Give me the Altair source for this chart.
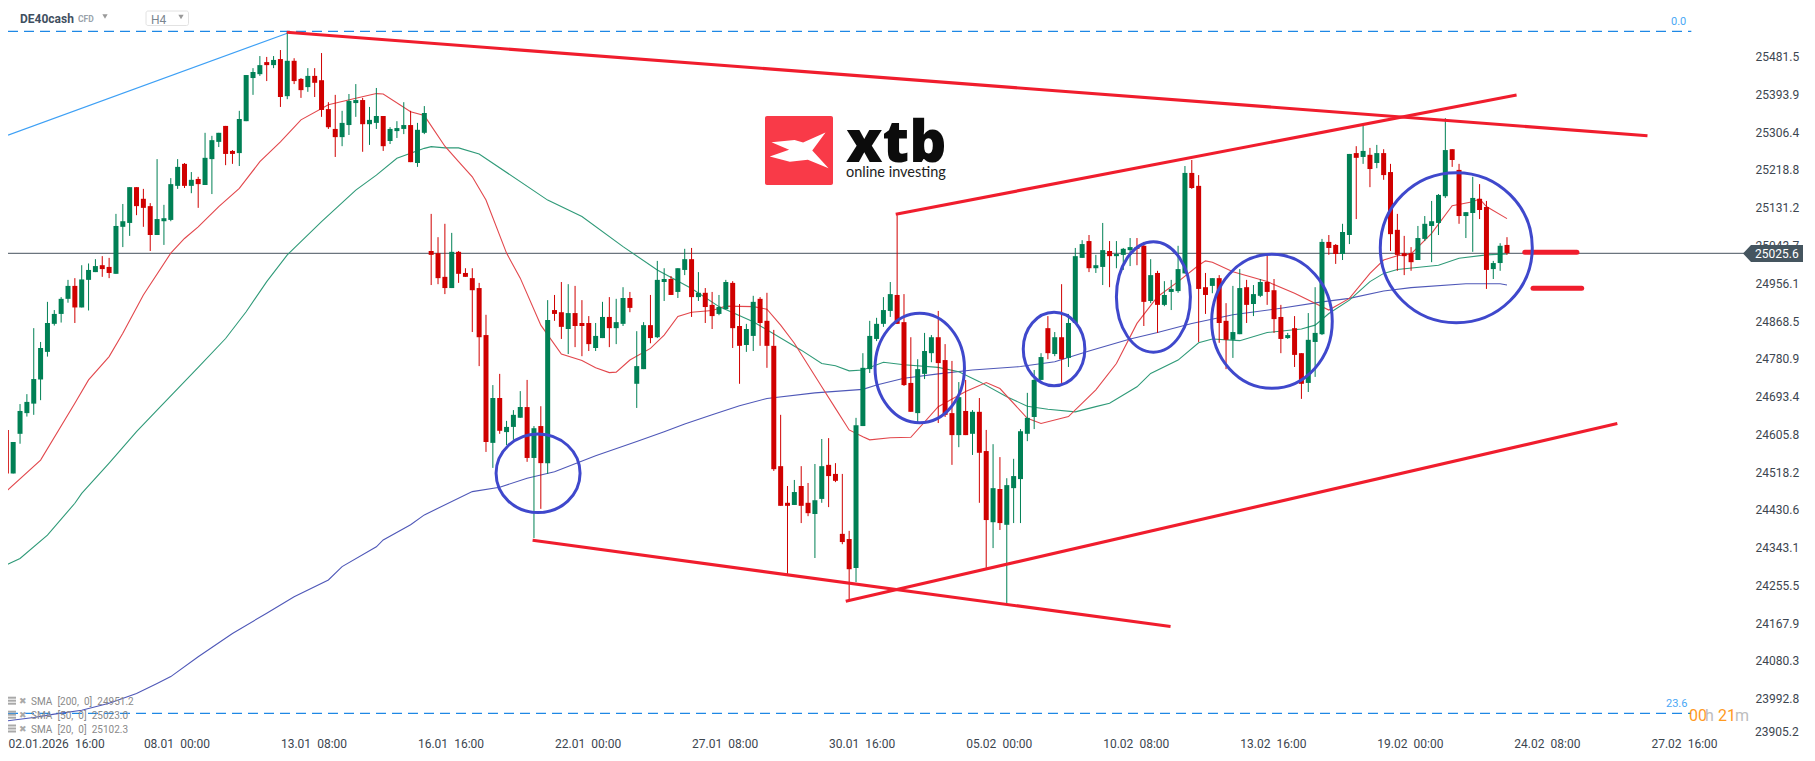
import altair as alt
import pandas as pd

high = [24618,24588,24676,24699,24852,24820,24913,24894,24924,24964,
24968,24998,25002,25012,25019,25015,25117,25140,25179,25179,
25175,25142,25244,25138,25200,25244,25235,25214,25203,25305,
25298,25305,25321,25265,25356,25439,25455,25483,25481,25483,
25497,25539,25478,25432,25455,25455,25490,25376,25393,25356,
25395,25418,25386,25365,25409,25344,25318,25332,25376,25356,
25328,25367,25117,25063,25094,25073,25031,24991,24991,24957,
24883,24720,24746,24637,24662,24706,24732,24625,24671,24917,
24929,24959,24954,24950,24917,24880,24864,24913,24924,24920,
24947,24936,24845,24866,24929,25008,24991,24973,24991,25036,
25038,24982,24945,24936,24929,24964,24961,24908,24862,24927,
24924,24934,24848,24651,24486,24500,24532,24493,24537,24595,
24597,24539,24514,24382,24644,24794,24869,24876,24924,24959,
25114,24931,24831,24780,24841,24836,24892,24815,24776,24727,
24732,24662,24690,24616,24583,24553,24504,24549,24618,24702,
24755,24794,24880,24843,24954,24885,25038,25056,25068,25022,
25096,25054,25054,25038,25061,25061,25052,25012,24985,24961,
24964,25043,25228,25242,25207,24980,24968,24975,24910,24950,
24989,24964,24952,24966,25022,24966,24906,24841,24880,24794,
24887,24947,25059,25068,25047,25094,25256,25274,25321,25270,
25277,25267,25233,25117,25066,25040,25089,25112,25147,25163,
25339,25267,25233,25121,25203,25186,25147,25008,25049,25063]

body_top = [24616,24588,24660,24681,24734,24806,24864,24885,24920,24950,
24950,24965,24987,24996,24998,24994,25089,25100,25179,25179,
25152,25135,25105,25107,25186,25226,25233,25196,25198,25247,
25288,25305,25321,25263,25337,25439,25446,25462,25469,25474,
25476,25472,25472,25430,25437,25437,25427,25360,25314,25328,
25379,25381,25381,25335,25344,25344,25314,25316,25323,25323,
25312,25351,25031,25026,24971,25029,25029,24980,24968,24945,
24836,24690,24690,24623,24651,24669,24669,24620,24625,24871,
24894,24889,24887,24887,24864,24864,24834,24878,24878,24866,
24922,24922,24764,24859,24859,24964,24966,24966,24991,25012,
25012,24934,24934,24906,24901,24959,24957,24857,24850,24913,
24920,24869,24811,24532,24447,24472,24486,24447,24453,24532,
24535,24514,24375,24363,24627,24760,24834,24862,24894,24931,
24929,24866,24725,24757,24799,24831,24831,24778,24655,24692,
24660,24658,24658,24567,24481,24479,24488,24509,24613,24644,
24732,24785,24852,24831,24831,24864,25019,25047,25054,24998,
25033,25031,25024,25036,25040,25040,25043,24975,24980,24929,
24943,24989,25212,25212,25182,24947,24968,24968,24869,24843,
24945,24947,24931,24959,24959,24940,24878,24836,24852,24794,
24825,24841,25052,25052,25045,25075,25256,25258,25263,25254,
25258,25258,25214,25080,25026,25026,25061,25094,25100,25161,
25265,25267,25219,25121,25154,25152,25133,25003,25043,25045]

body_bottom = [24515,24515,24607,24655,24677,24733,24797,24862,24885,24920,
24900,24900,24964,24982,24989,24980,24978,25087,25096,25135,
25131,25068,25068,25100,25103,25182,25182,25182,25186,25184,
25244,25284,25256,25256,25258,25332,25432,25441,25462,25462,
25388,25390,25425,25404,25411,25421,25358,25318,25295,25295,
25323,25374,25325,25325,25328,25274,25286,25309,25314,25237,
25235,25305,25022,24968,24945,24945,24978,24971,24940,24831,
24588,24586,24614,24611,24623,24644,24551,24551,24539,24539,
24885,24855,24850,24857,24857,24815,24806,24829,24852,24852,
24862,24899,24723,24757,24829,24831,24959,24929,24936,24987,
24924,24924,24901,24880,24885,24896,24852,24811,24813,24834,
24864,24811,24525,24440,24440,24442,24440,24423,24421,24456,
24509,24498,24356,24293,24296,24625,24757,24827,24862,24892,
24862,24720,24658,24655,24746,24794,24771,24651,24604,24604,
24604,24607,24563,24407,24402,24400,24396,24481,24502,24607,
24646,24732,24794,24792,24780,24783,24864,25015,24991,24991,
24994,25019,25019,25022,25033,25036,24913,24915,24906,24906,
24936,24938,24979,25177,24943,24929,24950,24864,24825,24825,
24838,24906,24908,24927,24936,24873,24827,24829,24790,24723,
24725,24820,24838,25038,25024,25024,25068,25247,25249,25221,
25235,25207,25070,25022,25019,25005,25010,25059,25089,25096,
25158,25242,25112,25112,25119,25126,24987,24989,25003,25026]

low = [24473,24515,24584,24647,24651,24685,24786,24858,24865,24911,
24864,24900,24893,24982,24971,24968,24978,25040,25066,25114,
25087,25031,25068,25045,25100,25175,25177,25165,25131,25184,
25163,25272,25230,25233,25228,25332,25393,25437,25425,25455,
25365,25383,25418,25386,25400,25388,25342,25314,25249,25274,
25300,25342,25261,25277,25314,25263,25279,25293,25302,25237,
25226,25302,24952,24954,24931,24945,24957,24971,24843,24764,
24565,24528,24607,24581,24593,24644,24542,24365,24433,24514,
24869,24827,24792,24808,24787,24799,24799,24829,24808,24815,
24857,24889,24667,24757,24817,24829,24915,24929,24922,24975,
24878,24915,24864,24850,24882,24896,24806,24723,24797,24799,
24811,24760,24521,24440,24282,24442,24400,24416,24319,24447,
24437,24495,24351,24222,24263,24625,24748,24822,24855,24878,
24862,24718,24658,24634,24734,24773,24632,24646,24535,24576,
24604,24558,24447,24296,24342,24384,24212,24400,24400,24590,
24618,24732,24780,24787,24725,24762,24864,25015,24982,24980,
24952,24947,24991,24987,24996,24998,24857,24910,24841,24903,
24894,24934,24979,25175,24820,24885,24933,24818,24757,24783,
24838,24864,24880,24924,24906,24841,24794,24827,24762,24688,
24704,24739,24836,25022,25001,25010,25047,25105,25233,25179,
25223,25196,25031,24985,24975,24985,25010,25054,25005,25068,
25154,25226,25094,25061,25029,25105,24943,24966,24985,25022]

direction = ("RGGGGGGGGG" "RGGGRRGGGR" "RRGGGGRGRG" "GGRRGGGGRG" "RGRRGRRRRG"
             "GGRGGRGGGR" "GGRRRGRRRR" "RGRGGGRGRG" "RRGRRRGGRG" "GRGGRGGRGG"
             "RGRRGGRRGG" "RRRRRGRRGG" "RRRRGGGGGG" "RRRGGGRRRG" "RGRRGRGGGG"
             "GGRGRGGGRG" "GRGGGRRGRG" "GGGRRRGRRG" "GRGGRRRGRR" "GGGRRGGRGR"
             "GRRRRRGGGG" "GRRGGRRGGR")

sma20_i = [0,5,10,12,15,17,20,24,26,28,31,34,37,40,43,47,51,54,55,59,61,64,66,68,70,73,75,78,81,84,86,88,89,91,94,96,98,100,103,105,109,111,113,115,119,121,123,125,126,129,132,136,140,143,145,149,151,155,159,162,165,168,171,174,175,176,179,184,188,193,196,199,201,203,205,208,211,214,215,216,219]
sma20_v = [24474,24546,24678,24732,24786,24840,24929,25026,25060,25087,25134,25176,25238,25284,25335,25370,25385,25396,25395,25354,25345,25274,25238,25203,25149,25026,24968,24859,24792,24777,24760,24749,24750,24778,24805,24836,24879,24889,24893,24903,24902,24896,24859,24817,24716,24666,24616,24600,24593,24598,24599,24670,24705,24726,24712,24643,24631,24647,24709,24770,24863,24925,24960,24998,25008,25005,24983,24960,24933,24894,24921,24979,25010,25020,25024,25072,25136,25145,25152,25134,25106]

sma50_i = [0,2,6,10,11,15,19,22,26,28,32,35,38,41,46,51,54,57,61,62,64,66,69,79,84,90,95,100,104,109,116,119,121,123,125,128,131,136,139,142,146,149,152,156,159,161,165,167,171,174,176,180,184,189,191,193,196,199,201,203,209,212,216,219]
sma50_v = [24303,24318,24372,24446,24469,24539,24612,24662,24728,24761,24828,24890,24960,25022,25099,25172,25207,25246,25269,25273,25270,25270,25256,25149,25111,25041,24987,24944,24902,24867,24801,24770,24765,24753,24755,24773,24767,24761,24751,24728,24693,24671,24664,24658,24670,24678,24716,24747,24778,24818,24827,24823,24842,24850,24859,24886,24917,24960,24979,24988,24998,25014,25022,25024]

sma200_i = [0,4,7,11,15,19,22,24,28,33,38,42,47,49,54,55,59,61,68,72,76,80,86,92,96,99,103,107,111,118,125,127,131,136,141,148,153,158,164,168,173,179,186,192,196,201,205,213,218,219]
sma200_v = [23941,23949,23957,23966,23982,24005,24028,24044,24090,24144,24191,24229,24268,24299,24345,24361,24396,24419,24473,24483,24504,24519,24556,24589,24612,24630,24651,24672,24689,24702,24710,24720,24736,24746,24755,24763,24774,24799,24827,24842,24863,24883,24898,24913,24921,24938,24946,24955,24955,24952]

y_ticks = [25481.5,25393.9,25306.4,25218.8,25131.2,25043.7,24956.1,24868.5,24780.9,24693.4,24605.8,24518.2,24430.6,24343.1,24255.5,24167.9,24080.3,23992.8]
x_labels = ["02.01.2026\u200216:00","08.01\u200200:00","13.01\u200208:00","16.01\u200216:00","22.01\u200200:00","27.01\u200208:00","30.01\u200216:00","05.02\u200200:00","10.02\u200208:00","13.02\u200216:00","19.02\u200200:00","24.02\u200208:00","27.02\u200216:00"]
x_ticks = [0.25] + [20*k for k in range(1, 13)]

W, H = 1745, 730
xscale = alt.Scale(domain=[0.244, 254.9], nice=False, zero=False, padding=0)
yscale = alt.Scale(domain=[23901.6, 25594.45], nice=False, zero=False, padding=0)
label_arr = "[" + ",".join("'%s'" % s for s in x_labels) + "]"
xaxis = alt.Axis(values=x_ticks, labelExpr=label_arr + "[round(datum.value/20)]", labelAlign="left",
                 labelBaseline="top", labelPadding=0, tickSize=0, domain=False, grid=False, title=None,
                 labelFont="Roboto", labelFontSize=12, labelColor="#3c4650", labelOverlap=False, labelBound=False, labelFlush=False)
yaxis = alt.Axis(values=y_ticks, orient="right", format=".1f", labelPadding=2, tickSize=0, domain=False, grid=False,
                 title=None, labelFont="Roboto", labelFontSize=12, labelColor="#3c4650", labelOverlap=False, labelBound=False, labelFlush=False)


def X(f):
    return alt.X(f + ":Q", scale=xscale, axis=xaxis, title=None)


def Y(f):
    return alt.Y(f + ":Q", scale=yscale, axis=yaxis, title=None)


def line(xs, ys, color, width, dash=None, cap="butt"):
    df = pd.DataFrame({"i": xs, "p": ys})
    kw = {"strokeDash": dash} if dash else {}
    return alt.Chart(df).mark_line(color=color, strokeWidth=width, strokeCap=cap, interpolate="linear", **kw).encode(x=X("i"), y=Y("p"))


candles = pd.DataFrame({"i": range(len(high)), "high": high, "low": low, "top": body_top, "bottom": body_bottom, "dir": list(direction)})
color = alt.Color("dir:N", scale=alt.Scale(domain=["R", "G"], range=["#d00000", "#008055"]), legend=None)
wicks = alt.Chart(candles).mark_rule(strokeWidth=1).encode(x=X("i"), y=Y("high"), y2="low:Q", color=color)
bodies = alt.Chart(candles).mark_bar(size=5).encode(x=X("i"), y=Y("top"), y2="bottom:Q", color=color)

RED = "#f01d2d"
BLUE = "#3f48cc"
layers = [
    line([0.244, 245.9], [25540.4, 25540.4], "#1e88e5", 1.3, [10, 6]),
    line([0.244, 245.9], [23958.9, 23958.9], "#1e88e5", 1.3, [10, 6]),
    line([0.244, 41], [25299.7, 25535.8], "#3ea0f5", 1.2),
    line([0.244, 254.9], [25025.6, 25025.6], "#47535e", 1),
    line(sma200_i, sma200_v, "#4f58b8", 1.1),
    line(sma50_i, sma50_v, "#2f9a78", 1.1),
    line(sma20_i, sma20_v, "#e2474c", 1.1),
    wicks,
    bodies,
    line([40.92, 239.5], [25538.1, 25298.3], RED, 3.1),
    line([129.8, 220.4], [25116, 25392.9], RED, 3.1),
    line([76.8, 169.9], [24360, 24160], RED, 3.1),
    line([122.5, 235.1], [24218.6, 24630.7], RED, 3.1),
    line([221.6, 229.2], [25027.9, 25027.9], RED, 5, cap="round"),
    line([222.8, 229.9], [24944.4, 24944.4], RED, 5, cap="round"),
]

ellipses = [
    (77.6, 24515.4, 42, 39.3),
    (133.3, 24759.6, 44.7, 54.7),
    (152.9, 24803.7, 30.8, 36.7),
    (167.4, 24924.3, 37, 55.2),
    (184.7, 24867.9, 60.3, 67),
    (211.6, 25038.6, 76, 75),
]
for ci, cp, rx, ry in ellipses:
    path = f"M {-rx} 0 A {rx} {ry} 0 1 0 {rx} 0 A {rx} {ry} 0 1 0 {-rx} 0 Z"
    df = pd.DataFrame({"i": [ci], "p": [cp]})
    layers.append(alt.Chart(df).mark_point(shape=path, size=4, filled=False, stroke=BLUE, strokeWidth=3, opacity=1).encode(x=X("i"), y=Y("p")))


def text(s, x, y, size=12, color="#3c4650", weight="normal", font="Roboto", align="left", baseline="middle"):
    return alt.Chart(alt.Data(values=[{"k": 0}])).mark_text(text=s, fontSize=size, color=color, fontWeight=weight, font=font,
                                                            align=align, baseline=baseline).encode(x=alt.value(x - 8), y=alt.value(y - 8))


def rect(x0, x1, y0, y1, fill, stroke=None, radius=0):
    kw = {"stroke": stroke, "strokeWidth": 1} if stroke else {}
    return alt.Chart(alt.Data(values=[{"k": 0}])).mark_rect(color=fill, cornerRadius=radius, **kw).encode(
        x=alt.value(x0 - 8), x2=alt.value(x1 - 8), y=alt.value(y0 - 8), y2=alt.value(y1 - 8))


def glyph(shape, x, y, size, fill):
    return alt.Chart(alt.Data(values=[{"k": 0}])).mark_point(shape=shape, size=size, filled=True, color=fill, opacity=1).encode(
        x=alt.value(x - 8), y=alt.value(y - 8))


# header
layers += [
    text("DE40cash", 20, 18.7, 12, "#3f4f5f", "bold"),
    text("CFD", 78, 19, 8.5, "#9aa3ab", "bold"),
    glyph("triangle-down", 105, 16.5, 28, "#9a9a9a"),
    rect(146, 188.5, 11, 25.5, "#ffffff", "#e2e2e2", 2),
    text("H4", 151, 19.7, 12, "#7b8690"),
    glyph("triangle-down", 181, 17, 28, "#9a9a9a"),
]
# logo
layers += [
    rect(765, 833, 116, 185, "#f93a48", None, 2),
    glyph("M -0.81 -0.24 L -0.13 -0.31 L 0.12 -0.235 L 0.78 -0.53 L 0.39 0 L 0.87 0.52 L 0.26 0.27 L -0.27 0.33 L -0.86 0.18 L -0.29 -0.02 Z", 799, 150.5, 4624, "#ffffff"),
    text("xtb", 846, 162, 58, "#0c0c0c", 800, "Open Sans", baseline="alphabetic"),
    text("online investing", 846, 177, 14.5, "#222222", "normal", "Lato", baseline="alphabetic"),
]
# fibonacci labels, timer
layers += [
    text("0.0", 1671, 22, 11, "#4aa8f5"),
    text("23.6", 1666, 704, 11, "#4aa8f5"),
    text("00", 1689, 716, 16, "#ff9a1f"),
    text("h", 1705, 716, 16, "#bdbdbd"),
    text("21", 1718, 716, 16, "#ff9a1f"),
    text("m", 1735, 716, 16, "#bdbdbd"),
    text("23905.2", 1755, 731.7),
]
# indicator legend
for lab, yy in [("SMA\u2002[200,\u20020]\u200224951.2", 701.7), ("SMA\u2002[50,\u20020]\u200225023.0", 715.7), ("SMA\u2002[20,\u20020]\u200225102.3", 729.5)]:
    for off in (-3.5, -0.5, 2.5):
        layers.append(rect(8, 16, yy + off - 1.5, yy + off + 0.5, "#a9a9a9"))
    layers.append(text("\u2716", 19, yy - 1, 9, "#a9a9a9", font="DejaVu Sans"))
    layers.append(text(lab, 31, yy, 10, "#8a8a8a"))
# price tag
layers += [
    rect(1751, 1803, 245, 262, "#45555f"),
    glyph("M -1 0 L 1 -2.1 L 1 2.1 Z", 1747, 253.5, 64, "#45555f"),
    text("25025.6", 1755, 253.7, 12, "#ffffff"),
]

chart = alt.layer(*layers).properties(
    width=W, height=H,
    padding={"left": 0, "top": 0, "right": 54, "bottom": 13},
    autosize=alt.AutoSizeParams(type="none"),
    background="#ffffff",
).configure_view(stroke=None)

chart.save("out.html", embed_options={"renderer": "svg", "actions": False})
